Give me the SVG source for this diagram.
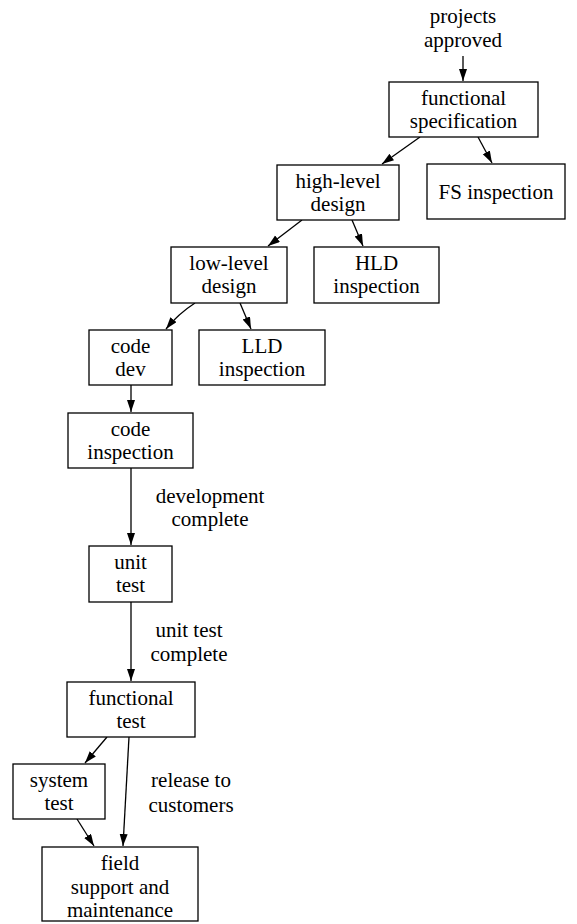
<svg xmlns="http://www.w3.org/2000/svg" width="577" height="924" viewBox="0 0 577 924">
<defs>
<style>
.box{fill:#fff;stroke:#000;stroke-width:1.3}
text{font-family:'Liberation Serif',Tinos,'Times New Roman','DejaVu Serif',serif;font-size:21px;fill:#000;text-anchor:middle}
.edge{fill:none;stroke:#000;stroke-width:1.3}
</style>
<marker id="ah" markerUnits="userSpaceOnUse" markerWidth="13" markerHeight="9" refX="12" refY="4" orient="auto">
<path d="M0,0 L12,4 L0,8 z" fill="#000"/>
</marker>
</defs>
<rect width="577" height="924" fill="#fff"/>
<g id="connectors">
<path class="edge" marker-end="url(#ah)" d="M463,56 L463,81"/>
<path class="edge" marker-end="url(#ah)" d="M420,137 L382,164"/>
<path class="edge" marker-end="url(#ah)" d="M478,137 L492,163"/>
<path class="edge" marker-end="url(#ah)" d="M302,220 L268,246"/>
<path class="edge" marker-end="url(#ah)" d="M352,220 L363,246"/>
<path class="edge" marker-end="url(#ah)" d="M195,303 Q178,314 166,329"/>
<path class="edge" marker-end="url(#ah)" d="M240,303 L251,329"/>
<path class="edge" marker-end="url(#ah)" d="M131,385 L131,412"/>
<path class="edge" marker-end="url(#ah)" d="M131,468 L131,545"/>
<path class="edge" marker-end="url(#ah)" d="M131,602 L131,681"/>
<path class="edge" marker-end="url(#ah)" d="M107,737 L85,763"/>
<path class="edge" marker-end="url(#ah)" d="M129,737 L123,846"/>
<path class="edge" marker-end="url(#ah)" d="M77,819 L94,846"/>
<text x="463" y="23">projects</text>
<text x="463" y="47">approved</text>
<text x="210" y="503">development</text>
<text x="210" y="526">complete</text>
<text x="189" y="637">unit test</text>
<text x="189" y="661">complete</text>
<text x="191" y="787">release to</text>
<text x="191" y="812">customers</text>
</g>
<g id="functional-specification">
<rect class="box" x="389" y="82" width="149" height="55"/>
<text x="463.5" y="105">functional</text>
<text x="463.5" y="128">specification</text>
</g>
<g id="fs-inspection">
<rect class="box" x="427" y="164" width="138" height="55"/>
<text x="496" y="199">FS inspection</text>
</g>
<g id="high-level-design">
<rect class="box" x="277" y="165" width="122" height="55"/>
<text x="338" y="188">high-level</text>
<text x="338" y="211">design</text>
</g>
<g id="hld-inspection">
<rect class="box" x="314" y="247" width="125" height="56"/>
<text x="376.5" y="270">HLD</text>
<text x="376.5" y="293">inspection</text>
</g>
<g id="low-level-design">
<rect class="box" x="171" y="247" width="116" height="56"/>
<text x="229" y="270">low-level</text>
<text x="229" y="293">design</text>
</g>
<g id="code-dev">
<rect class="box" x="89" y="330" width="83" height="55"/>
<text x="130.5" y="353">code</text>
<text x="130.5" y="376">dev</text>
</g>
<g id="lld-inspection">
<rect class="box" x="199" y="330" width="126" height="55"/>
<text x="262" y="353">LLD</text>
<text x="262" y="376">inspection</text>
</g>
<g id="code-inspection">
<rect class="box" x="68" y="413" width="125" height="55"/>
<text x="130.5" y="436">code</text>
<text x="130.5" y="459">inspection</text>
</g>
<g id="unit-test">
<rect class="box" x="89" y="546" width="83" height="56"/>
<text x="130.5" y="569">unit</text>
<text x="130.5" y="592">test</text>
</g>
<g id="functional-test">
<rect class="box" x="67" y="682" width="128" height="55"/>
<text x="131" y="705">functional</text>
<text x="131" y="728">test</text>
</g>
<g id="system-test">
<rect class="box" x="13" y="764" width="92" height="55"/>
<text x="59" y="787">system</text>
<text x="59" y="810">test</text>
</g>
<g id="field-support">
<rect class="box" x="42" y="847" width="156" height="74"/>
<text x="120" y="870">field</text>
<text x="120" y="894">support and</text>
<text x="120" y="917">maintenance</text>
</g>
</svg>
